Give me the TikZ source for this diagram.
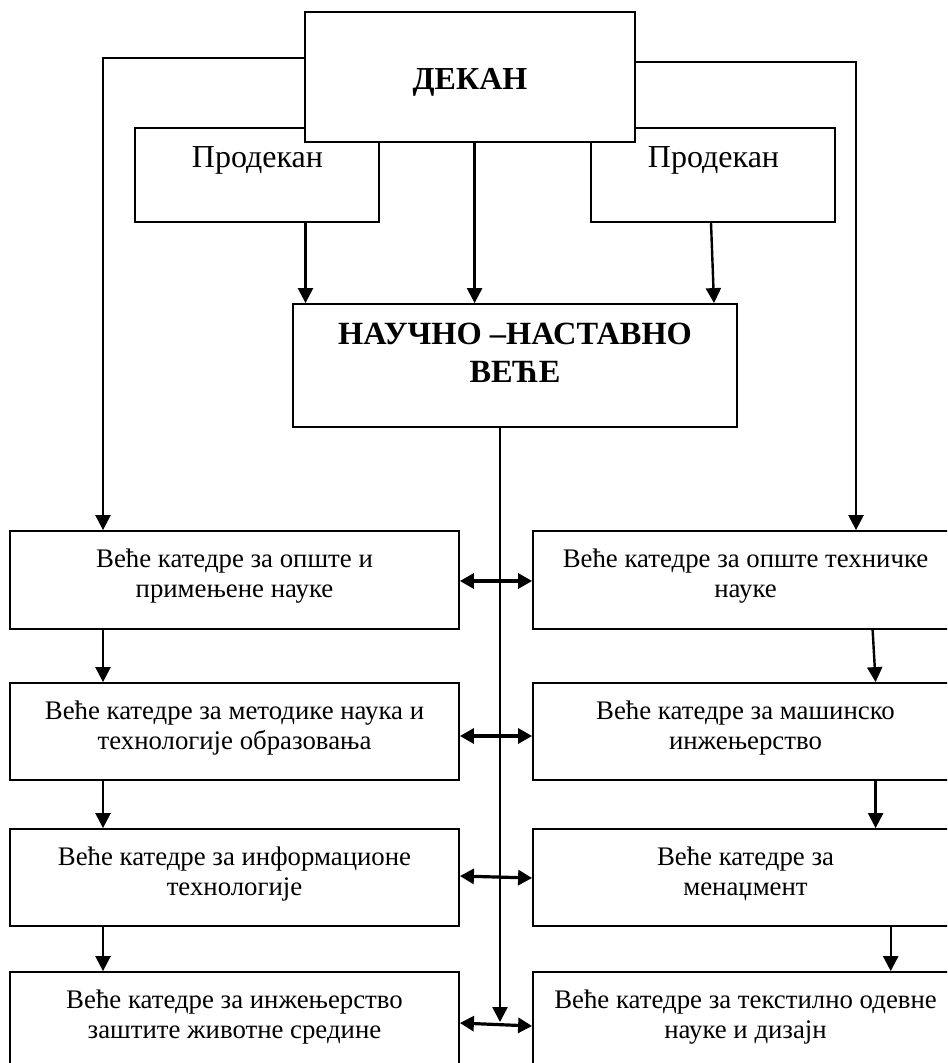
\documentclass[tikz,border=0pt]{standalone}
\usepackage{fontspec}
\setmainfont{Liberation Serif}
\usetikzlibrary{arrows.meta,fit}
\begin{document}
\begin{tikzpicture}[x=0.5pt,y=-0.5pt,
  box/.style={draw,line width=0.9pt,inner sep=0pt,rectangle},
  small/.style={inner sep=0pt,align=center,anchor=base,font=\fontsize{13.4}{15}\selectfont},
  big/.style={inner sep=0pt,align=center,anchor=base,font=\fontsize{16}{18.5}\selectfont},
  arr/.style={line width=1.2pt,-{Triangle[length=7.5pt,width=7.5pt]}},
  darr/.style={line width=1.6pt,{Triangle[length=7pt,width=7.5pt]}-{Triangle[length=7pt,width=7.5pt]}}]
\useasboundingbox (0,0) rectangle (947,1063);
\clip (0,0) rectangle (947,1063);
\fill[white] (0,0) rectangle (947,1063);
% top boxes
\node[box,fit={(135,128)(379,222)}] (pro1) {};
\node[box,fit={(591,128)(835,222)}] (pro2) {};
\node[box,fill=white,fit={(305,12)(635,142)}] (dekan) {};
\node[box,fit={(293,304)(737,427)}] (nau) {};
% lower boxes
\node[box,fit={(10,531)(459,629)}] (L1) {};
\node[box,fit={(10,683)(459,780)}] (L2) {};
\node[box,fit={(10,829)(459,926)}] (L3) {};
\node[box,fit={(10,972)(459,1080)}] (L4) {};
\node[box,fit={(533,531)(958,629)}] (R1) {};
\node[box,fit={(533,683)(958,780)}] (R2) {};
\node[box,fit={(533,829)(958,926)}] (R3) {};
\node[box,fit={(533,972)(958,1080)}] (R4) {};
% texts (multi-line nodes are anchored at the baseline of their last line)
\node[big,font=\fontsize{16}{18.5}\selectfont\bfseries] (tdekan) at (470,90) {ДЕКАН};
\node[big] (tpro1) at (257.5,168) {Продекан};
\node[big] (tpro2) at (713.5,168) {Продекан};
\node[big,font=\fontsize{16.2}{18.5}\selectfont\bfseries] (tnau) at (515,382) {НАУЧНО –НАСТАВНО\\ ВЕЋЕ};
\node[small] (tL1) at (234.5,597) {Веће катедре за опште и\\ примењене науке};
\node[small] (tL2) at (234.5,749) {Веће катедре за методике наука и\\ технологије образовања};
\node[small] (tL3) at (234.5,895) {Веће катедре за информационе\\ технологије};
\node[small] (tL4) at (234.5,1038) {Веће катедре за инжењерство\\ заштите животне средине};
\node[small] (tR1) at (745.5,597) {Веће катедре за опште техничке\\ науке};
\node[small] (tR2) at (745.5,749) {Веће катедре за машинско\\ инжењерство};
\node[small] (tR3) at (745.5,895) {Веће катедре за\\ менаџмент};
\node[small] (tR4) at (745.5,1038) {Веће катедре за текстилно одевне\\ науке и дизајн};
% coordinates
\coordinate (lcorner) at (103,58);
\coordinate (rcorner) at (856,62);
\coordinate (a1) at (305.5,0);
\coordinate (a2) at (474.6,0);
\coordinate (a3) at (711,0);
\coordinate (a3b) at (714,0);
\coordinate (cv) at (500,1022);
\coordinate (lx) at (103,0);
\coordinate (rx1) at (872.6,0);
\coordinate (rx1b) at (875.6,0);
\coordinate (rx2) at (875.6,0);
\coordinate (rx3) at (890.7,0);
\coordinate (d1) at (0,581);
\coordinate (d2) at (0,736);
\coordinate (d3l) at (0,876);
\coordinate (d3r) at (0,878);
\coordinate (d4l) at (0,1023);
\coordinate (d4r) at (0,1026);
% connectors from the dean
\draw[arr] (dekan.west |- lcorner) -- (lcorner) -- (lcorner |- L1.north);
\draw[arr] (dekan.east |- rcorner) -- (rcorner) -- (rcorner |- R1.north);
\draw[arr] (a1 |- pro1.south) -- (a1 |- nau.north);
\draw[arr] (a2 |- dekan.south) -- (a2 |- nau.north);
\draw[arr] (a3 |- pro2.south) -- (a3b |- nau.north);
\draw[arr] (cv |- nau.south) -- (cv);
% left chain
\draw[arr] (lx |- L1.south) -- (lx |- L2.north);
\draw[arr] (lx |- L2.south) -- (lx |- L3.north);
\draw[arr] (lx |- L3.south) -- (lx |- L4.north);
% right chain
\draw[arr] (rx1 |- R1.south) -- (rx1b |- R2.north);
\draw[arr] (rx2 |- R2.south) -- (rx2 |- R3.north);
\draw[arr] (rx3 |- R3.south) -- (rx3 |- R4.north);
% double arrows
\draw[darr] (L1.east |- d1) -- (R1.west |- d1);
\draw[darr] (L2.east |- d2) -- (R2.west |- d2);
\draw[darr] (L3.east |- d3l) -- (R3.west |- d3r);
\draw[darr] (L4.east |- d4l) -- (R4.west |- d4r);
\end{tikzpicture}
\end{document}
